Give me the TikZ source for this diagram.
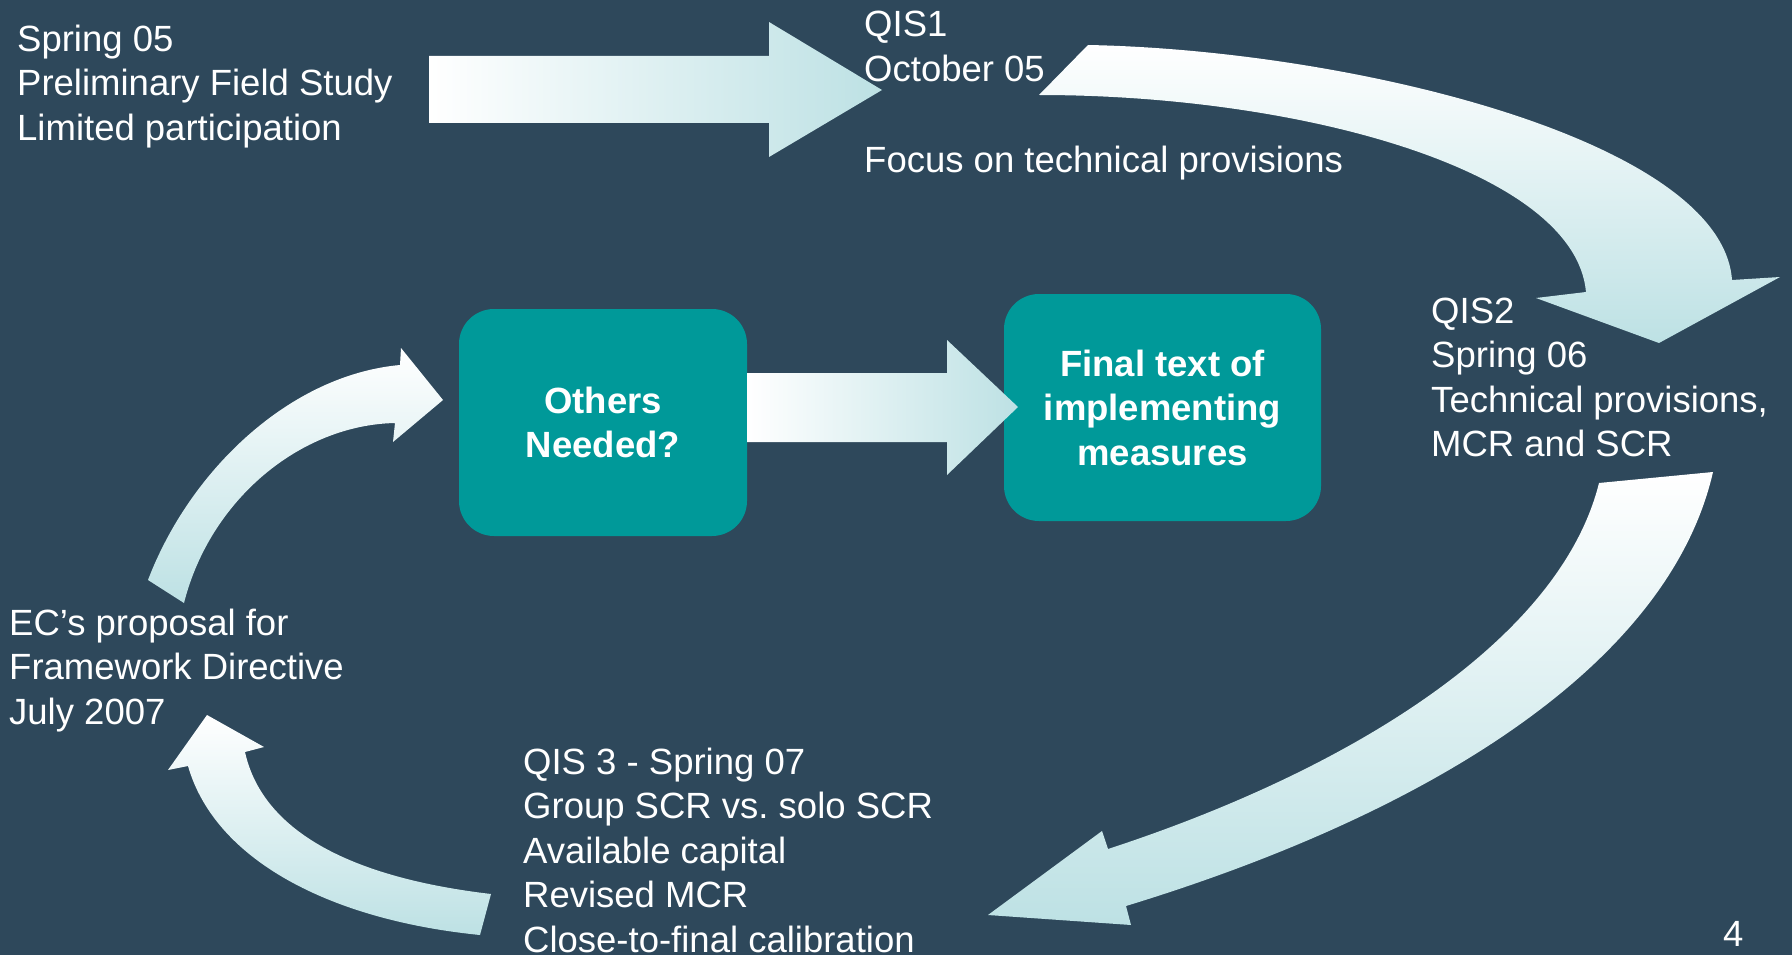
\documentclass[tikz,border=0pt]{standalone}
\usepackage{fontspec}
\setmainfont{Liberation Sans}
\definecolor{slide}{RGB}{46,72,91}
\definecolor{boxteal}{RGB}{0,153,153}
\definecolor{arrowpale}{RGB}{189,225,228}
% left-aligned block of lines whose baseline is that of its first line
\newcommand\txtblock[1]{\begin{tabular}[t]{@{}l@{}}#1\end{tabular}}
\begin{document}
\begin{tikzpicture}[x=1pt,y=-1pt,
  label/.style={anchor=base west, inner sep=0pt, text=white,
    font=\fontsize{36.5}{44.5}\selectfont},
  stagebox/.style={fill=boxteal, rounded corners=35pt, text=white, align=center,
    font=\fontsize{36.5}{44.5}\selectfont\bfseries, inner sep=0pt},
  downshade/.style={top color=white, bottom color=arrowpale, draw=none},
  rightshade/.style={left color=white, right color=arrowpale, draw=none}]

% slide background
\fill[slide] (0,0) rectangle (1792,955);
\useasboundingbox (0,0) rectangle (1792,955);

% process boxes
\node[stagebox, minimum width=288pt, minimum height=227pt] (others) at (603,422.5)
  {Others\\Needed?};
\node[stagebox, minimum width=317pt, minimum height=227pt] (final) at (1162.5,407.5)
  {Final text of\\implementing\\measures};

% straight block arrow: field study -> QIS1
\shade[rightshade] (429,56) -- (769,56) -- (769,22) -- (882,90) -- (769,157)
  -- (769,123) -- (429,123) -- cycle;

% straight block arrow: Others -> Final text
\shade[rightshade] (others.east |- 0,373) -- (947,373) -- (947,340) -- (1018,407)
  -- (947,475) -- (947,442) -- (others.east |- 0,442) -- cycle;

% curved arrow: QIS1 -> QIS2
\shade[downshade] (1088,45) .. controls (1350,50) and (1722,140) .. (1732,280)
  -- (1780,277) -- (1659,343) -- (1536,298) -- (1586,292)
  .. controls (1575,170) and (1300,95) .. (1039,95) -- cycle;

% curved arrow: QIS2 -> QIS3
\shade[downshade] (1713,472) -- (1599,483)
  .. controls (1560,640) and (1350,770) .. (1108,849)
  -- (1102,831) -- (988,915) -- (1131,925) -- (1126,906)
  .. controls (1440,810) and (1670,660) .. (1713,472) -- cycle;

% curved arrow: QIS3 -> EC proposal
\shade[downshade] (491,894) .. controls (330,875) and (260,820) .. (245,752)
  -- (264,747) -- (207,715) -- (168,770) -- (188,766)
  .. controls (215,860) and (330,920) .. (480,935) -- cycle;

% curved arrow: EC proposal -> Others
\shade[downshade] (148,580) .. controls (190,470) and (290,375) .. (400,365)
  -- (401,348) -- (443,400) -- (393,442) -- (395,423)
  .. controls (300,425) and (210,500) .. (184,603) -- cycle;

% stage labels
\node[label] (study) at (17,51.5)
  {\txtblock{Spring 05\\Preliminary Field Study\\Limited participation}};
\node[label] (qisone) at (864,37)
  {\txtblock{QIS1\\October 05\\[2.5pt]\\Focus on technical provisions}};
\node[label] (qistwo) at (1431,323)
  {\txtblock{QIS2\\Spring 06\\Technical provisions,\\MCR and SCR}};
\node[label] (qisthree) at (523,774)
  {\txtblock{QIS 3 - Spring 07\\Group SCR vs.\ solo SCR\\Available capital\\Revised MCR\\Close-to-final calibration}};
\node[label] (proposal) at (9,635)
  {\txtblock{EC’s proposal for\\Framework Directive\\July 2007}};

% slide number
\node[label] (pageno) at (1723,946) {4};
\end{tikzpicture}
\end{document}
